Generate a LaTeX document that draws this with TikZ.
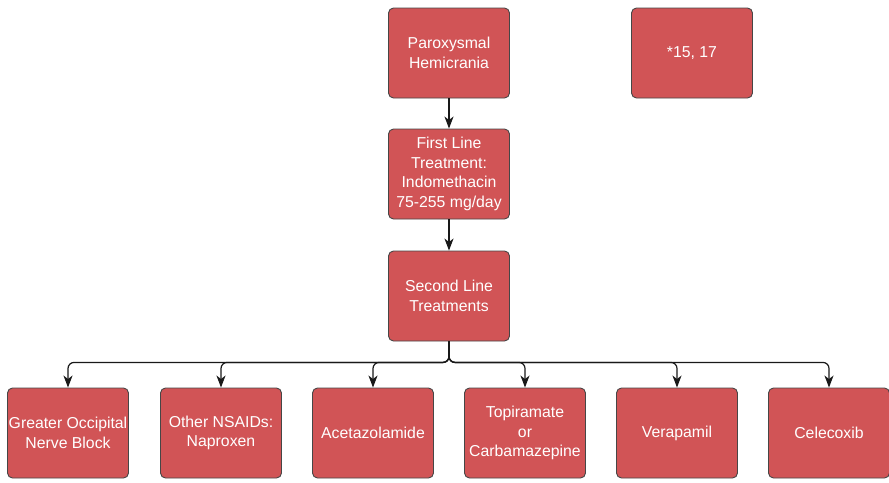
\documentclass[tikz,border=0pt]{standalone}
\usepackage{fontspec}
\setmainfont{Liberation Sans}
\usepackage{xcolor}
\usetikzlibrary{arrows.meta}

\definecolor{boxred}{RGB}{209,84,86}
\definecolor{boxedge}{RGB}{70,70,70}
\definecolor{linkgray}{RGB}{25,25,25}

\tikzset{
  box/.style={draw=boxedge, fill=boxred, line width=0.9pt, rounded corners=5pt,
    minimum width=121pt, minimum height=90pt, inner sep=0pt, align=center,
    text=white, font=\fontsize{15.8}{19.5}\selectfont},
  link/.style={draw=linkgray, line width=1.2pt, rounded corners=6pt,
    -{Stealth[length=12pt,width=9pt,inset=3.5pt]}}
}

\begin{document}
\begin{tikzpicture}[x=1pt,y=-1pt]
        \useasboundingbox (0,0) rectangle (889,482);

        % Main column
        \node[box] (pxh) at (449,53) {Paroxysmal\\Hemicrania};
        \node[box] (refs) at (692,53) {*15, 17};
        \node[box] (firstline) at (449,174) {First Line\\Treatment:\\Indomethacin\\75-255 mg/day};
        \node[box] (secondline) at (449,296) {Second Line\\Treatments};

        % Second line options
        \node[box] (gonb) at (68,433) {Greater Occipital\\Nerve Block};
        \node[box] (nsaid) at (221,433) {Other NSAIDs:\\Naproxen};
        \node[box] (acet) at (373,433) {Acetazolamide};
        \node[box] (topi) at (525,433) {Topiramate\\or\\Carbamazepine};
        \node[box] (vera) at (677,433) {Verapamil};
        \node[box] (cele) at (829,433) {Celecoxib};

        % Arrows
        \draw[link] (pxh) -- (firstline);
        \draw[link] (firstline) -- (secondline);
        \foreach \opt in {gonb,nsaid,acet,topi,vera,cele}
            \draw[link] (secondline.south) -- ++(0,21) -| (\opt.north);
    \end{tikzpicture}
\end{document}
